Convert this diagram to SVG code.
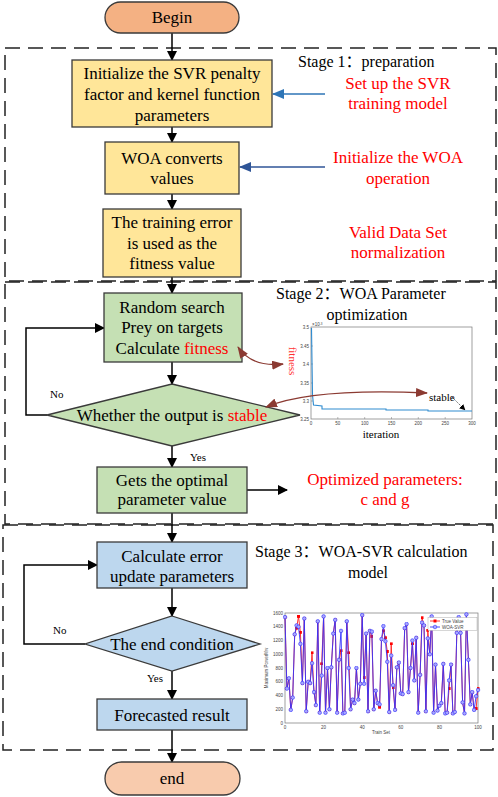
<svg xmlns="http://www.w3.org/2000/svg" width="498" height="797" viewBox="0 0 498 797">
<defs>
<style>
.t{font-family:"Liberation Serif","Times New Roman","Noto Sans CJK SC",serif;font-size:17px;fill:#000;text-anchor:middle}
.r{font-family:"Liberation Serif","Times New Roman",serif;font-size:17px;fill:#ff0000;text-anchor:middle}
.st{font-family:"Liberation Serif","Times New Roman","Noto Sans CJK SC",serif;font-size:16px;fill:#000}
.sm{font-family:"Liberation Serif","Times New Roman",serif;font-size:11px;fill:#000}
.tk{font-family:"Liberation Sans",Arial,sans-serif;font-size:4.5px;fill:#444}
.box{stroke:#3a3a3a;stroke-width:1.3}
.y{fill:#FFE699}.g{fill:#C5E0B4}.b{fill:#BDD7EE}
.stage{fill:none;stroke:#222;stroke-width:1.5;stroke-dasharray:15 8}
.c{fill:none;stroke:#000;stroke-width:1.5}
.br{fill:none;stroke:#8B3A32;stroke-width:1.3}
</style>
<marker id="ah" markerWidth="10" markerHeight="10" refX="9" refY="5" orient="auto" markerUnits="userSpaceOnUse"><path d="M0,0 L10,5 L0,10 z" fill="#000"/></marker>
<marker id="ahb" markerWidth="12" markerHeight="10" refX="11" refY="5" orient="auto" markerUnits="userSpaceOnUse"><path d="M0,0 L12,5 L0,10 z" fill="#2E75B6"/></marker>
<marker id="ahb2" markerWidth="12" markerHeight="10" refX="11" refY="5" orient="auto" markerUnits="userSpaceOnUse"><path d="M0,0 L12,5 L0,10 z" fill="#2F5597"/></marker>
<marker id="ahr" markerWidth="12" markerHeight="9" refX="11" refY="4.5" orient="auto-start-reverse" markerUnits="userSpaceOnUse"><path d="M0,0 L12,4.5 L0,9 z" fill="#8B3A32"/></marker>
<marker id="ahs" markerWidth="6" markerHeight="6" refX="5.5" refY="3" orient="auto" markerUnits="userSpaceOnUse"><path d="M0,0 L6,3 L0,6 z" fill="#000"/></marker>
<marker id="mb" markerWidth="5" markerHeight="5" refX="2.5" refY="2.5" markerUnits="userSpaceOnUse"><circle cx="2.5" cy="2.5" r="1.8" fill="#a8a8ff" stroke="#3333ff" stroke-width="0.6"/></marker>
<marker id="mr" markerWidth="3" markerHeight="3" refX="1.5" refY="1.5" markerUnits="userSpaceOnUse"><rect x="0" y="0" width="3" height="3" fill="#ff0000"/></marker>
</defs>
<rect width="498" height="797" fill="#fff"/>

<g id="stages">
<rect class="stage" x="5" y="48" width="491" height="233"/>
<rect class="stage" x="5" y="282" width="491" height="242"/>
<rect class="stage" x="3" y="525" width="490" height="225"/>
<text class="st" x="298" y="67">Stage 1：preparation</text>
<text class="st" x="276" y="299">Stage 2：WOA Parameter</text>
<text class="st" x="367" y="320" text-anchor="middle">optimization</text>
<text class="st" x="255" y="557">Stage 3：WOA-SVR calculation</text>
<text class="st" x="368" y="578" text-anchor="middle">model</text>
</g>

<g id="connectors">
<line class="c" x1="172" y1="33" x2="172" y2="60" marker-end="url(#ah)"/>
<line class="c" x1="172" y1="127" x2="172" y2="142" marker-end="url(#ah)"/>
<line class="c" x1="172" y1="194" x2="172" y2="209" marker-end="url(#ah)"/>
<line class="c" x1="172" y1="277" x2="172" y2="293" marker-end="url(#ah)"/>
<line class="c" x1="172" y1="362" x2="172" y2="384" marker-end="url(#ah)"/>
<line class="c" x1="172" y1="446" x2="172" y2="467" marker-end="url(#ah)"/>
<line class="c" x1="172" y1="513" x2="172" y2="542" marker-end="url(#ah)"/>
<line class="c" x1="172" y1="588" x2="172" y2="616" marker-end="url(#ah)"/>
<line class="c" x1="172" y1="671" x2="172" y2="699" marker-end="url(#ah)"/>
<line class="c" x1="172" y1="730" x2="172" y2="762" marker-end="url(#ah)"/>
<polyline class="c" points="47,415 26,415 26,328 104,328" marker-end="url(#ah)"/>
<polyline class="c" points="85,644 24,644 24,565 97,565" marker-end="url(#ah)"/>
<line class="c" x1="247" y1="490" x2="287" y2="490" marker-end="url(#ah)"/>
<line x1="325" y1="94" x2="273" y2="94" stroke="#2E75B6" stroke-width="1.5" marker-end="url(#ahb)"/>
<line x1="325" y1="167" x2="240" y2="167" stroke="#2F5597" stroke-width="1.5" marker-end="url(#ahb2)"/>
<text class="sm" x="50" y="398">No</text>
<text class="sm" x="190" y="461">Yes</text>
<text class="sm" x="53" y="634">No</text>
<text class="sm" x="147" y="682">Yes</text>
</g>

<g id="begin">
<rect x="105" y="2" width="134" height="31" rx="15.5" fill="#F4B183" stroke="#3a3a3a" stroke-width="1.3"/>
<text class="t" x="172" y="23">Begin</text>
</g>
<g id="init-svr">
<rect class="box y" x="72" y="60" width="200" height="67"/>
<text class="t" x="172" y="79">Initialize the SVR penalty</text>
<text class="t" x="172" y="100">factor and kernel function</text>
<text class="t" x="172" y="121">parameters</text>
</g>
<g id="woa-convert">
<rect class="box y" x="105" y="142" width="134" height="52"/>
<text class="t" x="172" y="164">WOA converts</text>
<text class="t" x="172" y="184">values</text>
</g>
<g id="training-error">
<rect class="box y" x="103" y="209" width="138" height="68"/>
<text class="t" x="172" y="228">The training error</text>
<text class="t" x="172" y="249">is used as the</text>
<text class="t" x="172" y="269">fitness value</text>
</g>
<g id="notes-stage1">
<text class="r" x="398" y="89">Set up the SVR</text>
<text class="r" x="398" y="109">training model</text>
<text class="r" x="398" y="163">Initialize the WOA</text>
<text class="r" x="398" y="184">operation</text>
<text class="r" x="398" y="238">Valid Data Set</text>
<text class="r" x="398" y="258">normalization</text>
</g>
<g id="random-search">
<rect class="box g" x="104" y="293" width="138" height="69"/>
<text class="t" x="172" y="313">Random search</text>
<text class="t" x="172" y="333">Prey on targets</text>
<text class="t" x="172" y="354">Calculate <tspan style="fill:#ff0000">fitness</tspan></text>
</g>
<g id="stable-check">
<polygon class="box g" points="172,384 300,415 172,446 47,415"/>
<text class="t" x="172" y="421">Whether the output is <tspan style="fill:#ff0000">stable</tspan></text>
</g>
<g id="optimal">
<rect class="box g" x="97" y="467" width="150" height="46"/>
<text class="t" x="172" y="486">Gets the optimal</text>
<text class="t" x="172" y="505">parameter value</text>
</g>
<g id="optimized-note">
<text class="r" x="385" y="485">Optimized parameters:</text>
<text class="r" x="385" y="505">c and g</text>
</g>
<g id="fitness-plot">
<rect x="311" y="327" width="161" height="92" fill="#fff" stroke="#777" stroke-width="0.7"/>
<g stroke="#777" stroke-width="0.5">
<line x1="337.8" y1="419" x2="337.8" y2="417"/><line x1="364.7" y1="419" x2="364.7" y2="417"/><line x1="391.5" y1="419" x2="391.5" y2="417"/><line x1="418.3" y1="419" x2="418.3" y2="417"/><line x1="445.2" y1="419" x2="445.2" y2="417"/>
<line x1="311" y1="346" x2="313" y2="346"/><line x1="311" y1="364" x2="313" y2="364"/><line x1="311" y1="383" x2="313" y2="383"/><line x1="311" y1="401" x2="313" y2="401"/>
</g>
<g class="tk" text-anchor="end">
<text x="309" y="329">3.5</text><text x="309" y="348">3.45</text><text x="309" y="366">3.4</text><text x="309" y="385">3.35</text><text x="309" y="403">3.3</text><text x="309" y="421">3.25</text>
</g>
<text class="tk" x="312" y="326" font-size="3.5">×10<tspan dy="-1.5" font-size="3">-3</tspan></text>
<g class="tk" text-anchor="middle">
<text x="311" y="425">0</text><text x="337.8" y="425">50</text><text x="364.7" y="425">100</text><text x="391.5" y="425">150</text><text x="418.3" y="425">200</text><text x="445.2" y="425">250</text><text x="472" y="425">300</text>
</g>
<path d="M311.5,328 L312.5,395 L313.5,405 L322,406 L322,409 L386,409 L386,410 L428,410 L428,411 L472,411" fill="none" stroke="#2E8BD0" stroke-width="1.1"/>
<text class="sm" x="381" y="438" text-anchor="middle">iteration</text>
<text class="sm" transform="translate(289,361) rotate(90)" text-anchor="middle" style="fill:#ff3030">fitness</text>
<text class="sm" x="429" y="401" font-size="8.5">stable</text>
<line x1="452" y1="397" x2="465" y2="410" stroke="#000" stroke-width="0.6" stroke-dasharray="1.5 1" marker-end="url(#ahs)"/>
</g>
<g id="callout-arrows">
<path class="br" d="M238,347 C248,362 265,366 283,364" marker-start="url(#ahr)" marker-end="url(#ahr)"/>
<path class="br" d="M266,407 C300,393 360,390 427,393" marker-start="url(#ahr)" marker-end="url(#ahr)"/>
</g>
<g id="calc-error">
<rect class="box b" x="97" y="542" width="150" height="46"/>
<text class="t" x="172" y="562">Calculate error</text>
<text class="t" x="172" y="582">update parameters</text>
</g>
<g id="end-condition">
<polygon class="box b" points="172,616 260,644 172,671 85,644"/>
<text class="t" x="172" y="650">The end condition</text>
</g>
<g id="forecast">
<rect class="box b" x="97" y="699" width="150" height="31"/>
<text class="t" x="172" y="721">Forecasted result</text>
</g>
<g id="end">
<rect x="105" y="762" width="135" height="33" rx="16.5" fill="#F8CBAD" stroke="#3a3a3a" stroke-width="1.3"/>
<text class="t" x="172" y="784">end</text>
</g>
<g id="forecast-plot">
<rect x="285" y="613" width="193" height="110" fill="#fff" stroke="#777" stroke-width="0.7"/>
<g class="tk" text-anchor="end">
<text x="283" y="724.5">0</text><text x="283" y="710.7">200</text><text x="283" y="697">400</text><text x="283" y="683.2">600</text><text x="283" y="669.5">800</text><text x="283" y="655.7">1000</text><text x="283" y="642">1200</text><text x="283" y="628.2">1400</text><text x="283" y="614.5">1600</text>
</g>
<g class="tk" text-anchor="middle">
<text x="285" y="728.5">0</text><text x="323.6" y="728.5">20</text><text x="362.2" y="728.5">40</text><text x="400.8" y="728.5">60</text><text x="439.4" y="728.5">80</text><text x="478" y="728.5">100</text>
</g>
<text class="tk" x="381" y="734" text-anchor="middle" font-size="5">Train Set</text>
<text class="tk" transform="translate(268,668) rotate(-90)" text-anchor="middle">Maximum PowerMw</text>
<polyline fill="none" stroke="#ff2020" stroke-width="0.9" marker-start="url(#mr)" marker-mid="url(#mr)" marker-end="url(#mr)" points="285.0,617.1 286.9,688.6 288.9,678.3 290.8,709.9 292.7,697.6 294.7,634.3 296.6,628.1 298.5,616.4 300.4,632.3 302.4,683.1 304.3,618.5 306.2,711.3 308.2,681.8 310.1,683.1 312.0,652.9 314.0,692.1 315.9,705.1 317.8,621.3 319.7,712.7 321.7,663.9 323.6,616.4 325.5,712.7 327.5,668.0 329.4,709.3 331.3,667.3 333.3,633.6 335.2,619.9 337.1,712.7 339.0,659.8 341.0,650.8 342.9,713.4 344.8,712.7 346.8,621.3 348.7,652.9 350.6,709.3 352.6,699.6 354.5,703.1 356.4,668.0 358.3,699.6 360.3,683.8 362.2,615.1 364.1,677.6 366.1,633.6 368.0,711.3 369.9,630.9 371.9,636.4 373.8,709.3 375.7,690.7 377.6,703.1 379.6,707.2 381.5,639.1 383.4,630.9 385.4,637.8 387.3,651.5 389.2,712.0 391.2,643.9 393.1,687.9 395.0,709.9 396.9,667.3 398.9,662.5 400.8,693.4 402.7,694.1 404.7,628.1 406.6,624.0 408.5,692.1 410.5,668.0 412.4,643.9 414.3,680.4 416.2,637.8 418.2,712.7 420.1,674.9 422.0,617.8 424.0,625.4 425.9,711.3 427.8,630.2 429.8,654.3 431.7,616.4 433.6,712.7 435.5,664.6 437.5,710.6 439.4,705.8 441.3,703.1 443.3,663.9 445.2,713.4 447.1,712.7 449.1,688.6 451.0,664.6 452.9,713.4 454.8,712.0 456.8,632.9 458.7,617.1 460.6,632.9 462.6,702.4 464.5,713.4 466.4,614.4 468.4,659.8 470.3,704.4 472.2,692.1 474.1,709.9 476.1,708.6 478.0,688.6"/>
<polyline fill="none" stroke="#3333ff" stroke-width="0.9" marker-start="url(#mb)" marker-mid="url(#mb)" marker-end="url(#mb)" points="285.0,617.1 286.9,688.6 288.9,678.3 290.8,709.9 292.7,697.6 294.7,634.3 296.6,625.4 298.5,626.8 300.4,643.9 302.4,683.1 304.3,618.5 306.2,711.3 308.2,681.8 310.1,683.1 312.0,663.2 314.0,692.1 315.9,705.1 317.8,621.3 319.7,712.7 321.7,675.6 323.6,616.4 325.5,712.7 327.5,668.0 329.4,709.3 331.3,667.3 333.3,633.6 335.2,619.9 337.1,712.7 339.0,659.8 341.0,630.9 342.9,713.4 344.8,712.7 346.8,621.3 348.7,668.0 350.6,709.3 352.6,699.6 354.5,703.1 356.4,668.0 358.3,699.6 360.3,683.8 362.2,615.1 364.1,683.8 366.1,633.6 368.0,711.3 369.9,630.9 371.9,631.6 373.8,709.3 375.7,690.7 377.6,703.1 379.6,704.4 381.5,639.1 383.4,626.1 385.4,641.2 387.3,661.8 389.2,712.0 391.2,655.6 393.1,685.2 395.0,709.9 396.9,667.3 398.9,662.5 400.8,693.4 402.7,694.1 404.7,628.1 406.6,624.0 408.5,692.1 410.5,668.0 412.4,640.5 414.3,680.4 416.2,637.8 418.2,712.7 420.1,674.9 422.0,622.6 424.0,625.4 425.9,711.3 427.8,638.4 429.8,654.3 431.7,616.4 433.6,712.7 435.5,664.6 437.5,710.6 439.4,705.8 441.3,703.1 443.3,663.9 445.2,713.4 447.1,712.7 449.1,680.4 451.0,664.6 452.9,713.4 454.8,712.0 456.8,632.9 458.7,617.1 460.6,632.9 462.6,702.4 464.5,713.4 466.4,614.4 468.4,659.8 470.3,704.4 472.2,692.1 474.1,709.9 476.1,696.2 478.0,690.0"/>
<rect x="428" y="617.5" width="49" height="13" fill="#fff" stroke="#999" stroke-width="0.4"/>
<line x1="430" y1="621" x2="440" y2="621" stroke="#ff2020" stroke-width="0.9"/>
<rect x="433.5" y="619.5" width="3" height="3" fill="#ff0000"/>
<line x1="430" y1="627" x2="440" y2="627" stroke="#3333ff" stroke-width="0.9"/>
<circle cx="435" cy="627" r="1.8" fill="#a8a8ff" stroke="#3333ff" stroke-width="0.6"/>
<text class="tk" x="442" y="622.5" font-size="4">True Value</text>
<text class="tk" x="442" y="628.5" font-size="4">WOA-SVR</text>
</g>
</svg>
